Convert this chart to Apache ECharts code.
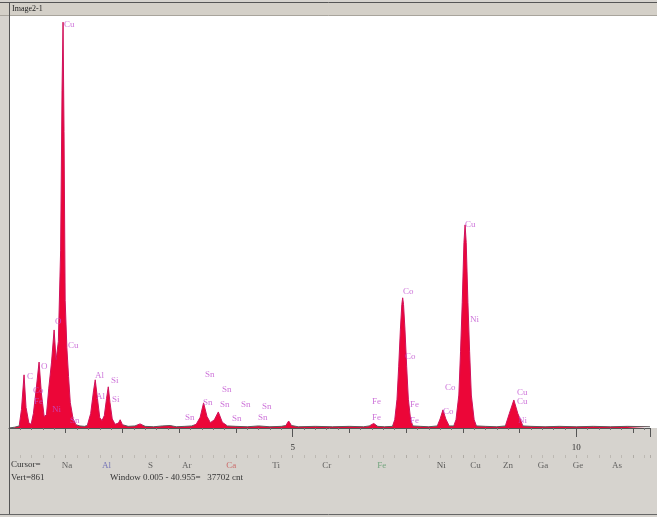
<!DOCTYPE html>
<html>
<head>
<meta charset="utf-8">
<script src="https://cdn.jsdelivr.net/npm/echarts@6/dist/echarts.min.js"></script>
<style>
  html,body{margin:0;padding:0;background:#ffffff;}
  #chart{width:657px;height:517px;}
</style>
</head>
<body>
<div id="chart"></div>
<script>
// Spectrum (energy keV, counts)
var specKeV = [0.00,0.10,0.18,0.22,0.265,0.30,0.35,0.39,0.43,0.48,0.53,0.57,0.62,0.66,0.70,0.75,0.795,0.83,0.87,0.91,0.935,0.953,0.97,0.99,1.02,1.05,1.08,1.13,1.18,1.25,1.33,1.38,1.44,1.49,1.52,1.55,1.60,1.64,1.68,1.72,1.75,1.78,1.82,1.87,1.93,1.96,2.00,2.10,2.22,2.31,2.40,2.55,2.70,2.84,2.95,3.10,3.22,3.30,3.37,3.43,3.49,3.55,3.62,3.69,3.76,3.85,4.00,4.20,4.40,4.60,4.80,4.88,4.93,4.98,5.10,5.40,5.70,6.00,6.25,6.35,6.43,6.50,6.62,6.76,6.80,6.84,6.87,6.90,6.925,6.94,6.955,6.98,7.01,7.04,7.08,7.12,7.25,7.40,7.55,7.60,7.65,7.70,7.76,7.84,7.88,7.93,7.96,7.99,8.02,8.04,8.06,8.09,8.12,8.15,8.20,8.24,8.40,8.60,8.75,8.82,8.90,8.97,9.06,9.20,9.45,9.70,10.00,10.30,10.60,10.90,11.30];
var specCounts = [0,2,5,45,129,50,12,9,35,95,160,85,28,32,95,160,238,165,210,430,820,985,720,310,195,125,62,22,8,5,4,6,35,90,117,82,25,18,30,72,100,62,22,9,12,20,8,4,5,10,4,3,5,6,3,4,5,9,26,61,28,13,20,39,14,5,4,3,5,3,4,6,17,6,3,4,3,4,3,5,11,4,3,4,20,70,150,240,300,316,300,240,150,70,20,5,4,3,5,22,44,22,5,5,20,80,185,305,450,493,450,305,185,80,20,5,4,3,5,35,68,35,5,4,3,4,3,4,3,4,3];

// Peak identification labels
var labelKeV = [0.970,0.317,0.564,0.811,1.040,0.423,0.441,0.758,1.075,1.516,1.534,1.798,1.816,3.455,3.755,3.420,3.719,4.090,4.460,3.102,3.931,4.389,6.945,6.981,6.399,6.399,7.069,7.069,7.686,7.650,8.038,8.126,8.955,8.955,8.972];
var labelCount = [978,124,148,257,201,90,63,44,19,126,75,114,68,129,92,61,56,56,53,24,22,24,330,172,63,24,56,19,97,39,493,262,85,63,19];
var labelText = ['Cu','C','O','O','Cu','Co','Fe','Ni','Sn','Al','Al','Si','Si','Sn','Sn','Sn','Sn','Sn','Sn','Sn','Sn','Sn','Co','Co','Fe','Fe','Fe','Fe','Co','Co','Cu','Ni','Cu','Cu','Ni'];

// Element marker row
var elemKeV = [0.93,1.64,2.45,3.05,3.83,4.64,5.52,6.49,7.54,8.13,8.71,9.32,9.94,10.63];
var elemText = ['Na','Al','S','Ar','Ca','Ti','Cr','Fe','Ni','Cu','Zn','Ga','Ge','As'];
var elemColor = ['#444','#5a5ab0','#444','#444','#c85050','#444','#444','#5a9a6a','#333','#444','#444','#444','#444','#444'];

// Axis tick labels
var axisLabels = {5:'5', 10:'10'};

var XMAX = 11.3;
var serif = '"Liberation Serif","DejaVu Serif",serif';

var spectrum = specKeV.map(function(k,i){return [k, specCounts[i]];});
var labels = labelKeV.map(function(k,i){return {value:[k,labelCount[i]], name:labelText[i]};});
var elems = elemKeV.map(function(k,i){return {value:[k,0.5], name:elemText[i], label:{color:elemColor[i]}};});

var cut = 425/517;
var lineGrad = {type:'linear', x:0, y:0, x2:0, y2:517, global:true,
  colorStops:[{offset:0,color:'#d0105a'},{offset:cut,color:'#d0105a'},{offset:cut,color:'#5a5a5a'},{offset:1,color:'#5a5a5a'}]};

var chart = echarts.init(document.getElementById('chart'), null, {renderer:'canvas'});
chart.setOption({
  animation:false,
  backgroundColor:'#d6d3ce',
  grid:[
    {left:9, right:7, top:16, bottom:89, show:true, backgroundColor:'#ffffff', borderWidth:0},
    {left:9, right:7, top:455, height:22, show:false}
  ],
  xAxis:[
    {gridIndex:0, type:'value', min:0, max:XMAX, interval:5, position:'bottom',
     axisLine:{show:true, onZero:false, lineStyle:{color:'#555', width:1}},
     axisTick:{show:true, length:9, lineStyle:{color:'#555'}},
     axisLabel:{show:true, margin:15, fontFamily:serif, fontSize:9, color:'#333',
       formatter:function(v){return axisLabels[v] || '';}},
     splitLine:{show:false}},
    {gridIndex:0, type:'value', min:0, max:XMAX, interval:1, position:'bottom',
     axisLine:{show:false, onZero:false},
     axisTick:{show:true, length:5, lineStyle:{color:'#555'}},
     minorTick:{show:true, splitNumber:5, length:2, lineStyle:{color:'#777'}},
     axisLabel:{show:false}, splitLine:{show:false}},
    {gridIndex:1, type:'value', min:0, max:XMAX, interval:1, position:'top',
     axisLine:{show:false, onZero:false},
     axisTick:{show:true, inside:true, length:3, lineStyle:{color:'#b0aca6'}},
     minorTick:{show:true, splitNumber:5, length:3, lineStyle:{color:'#bdb9b3'}},
     axisLabel:{show:false}, splitLine:{show:false}}
  ],
  yAxis:[
    {gridIndex:0, type:'value', min:0, max:1000, show:false, splitLine:{show:false}},
    {gridIndex:1, type:'value', min:0, max:1, show:false, splitLine:{show:false}}
  ],
  series:[
    {type:'line', xAxisIndex:0, yAxisIndex:0, data:spectrum, showSymbol:false, symbol:'none',
     lineStyle:{width:1, color:lineGrad}, areaStyle:{color:'#ec0638', opacity:1}, z:3},
    {type:'scatter', xAxisIndex:0, yAxisIndex:0, data:labels, symbolSize:0, silent:true, z:5,
     label:{show:true, position:[0,0], align:'left', verticalAlign:'middle',
       formatter:'{b}', fontFamily:serif, fontSize:9, color:'#c050d0'}},
    {type:'scatter', xAxisIndex:2, yAxisIndex:1, data:elems, symbolSize:0, silent:true,
     label:{show:true, position:[0,0], align:'left', verticalAlign:'middle',
       formatter:'{b}', fontFamily:serif, fontSize:9, color:'#444'}}
  ],
  graphic:[
    {type:'rect', shape:{x:650, y:16, width:7, height:412}, style:{fill:'#ffffff', stroke:null}, z:1},
    {type:'rect', shape:{x:0, y:2, width:657, height:13}, style:{fill:'#d4d0c8', stroke:null}, z:10},
    {type:'line', shape:{x1:0, y1:2.5, x2:657, y2:2.5}, style:{stroke:'#555', lineWidth:1}, z:11},
    {type:'line', shape:{x1:0, y1:15.5, x2:657, y2:15.5}, style:{stroke:'#a8a49c', lineWidth:1}, z:11},
    {type:'text', x:12, y:9, style:{text:'Image2-1', font:'8px '+serif, fill:'#222', verticalAlign:'middle'}, z:12},
    {type:'line', shape:{x1:9.5, y1:2, x2:9.5, y2:514}, style:{stroke:'#555', lineWidth:1}, z:11},
    {type:'line', shape:{x1:0, y1:514.5, x2:657, y2:514.5}, style:{stroke:'#666', lineWidth:1}, z:11},
    {type:'text', x:11, y:465, style:{text:'Cursor=', font:'9px '+serif, fill:'#333', verticalAlign:'middle'}, z:12},
    {type:'text', x:11, y:478, style:{text:'Vert=861', font:'9px '+serif, fill:'#333', verticalAlign:'middle'}, z:12},
    {type:'text', x:110, y:478, style:{text:'Window 0.005 - 40.955=   37702 cnt', font:'9px '+serif, fill:'#333', verticalAlign:'middle'}, z:12}
  ]
});
</script>
</body>
</html>
